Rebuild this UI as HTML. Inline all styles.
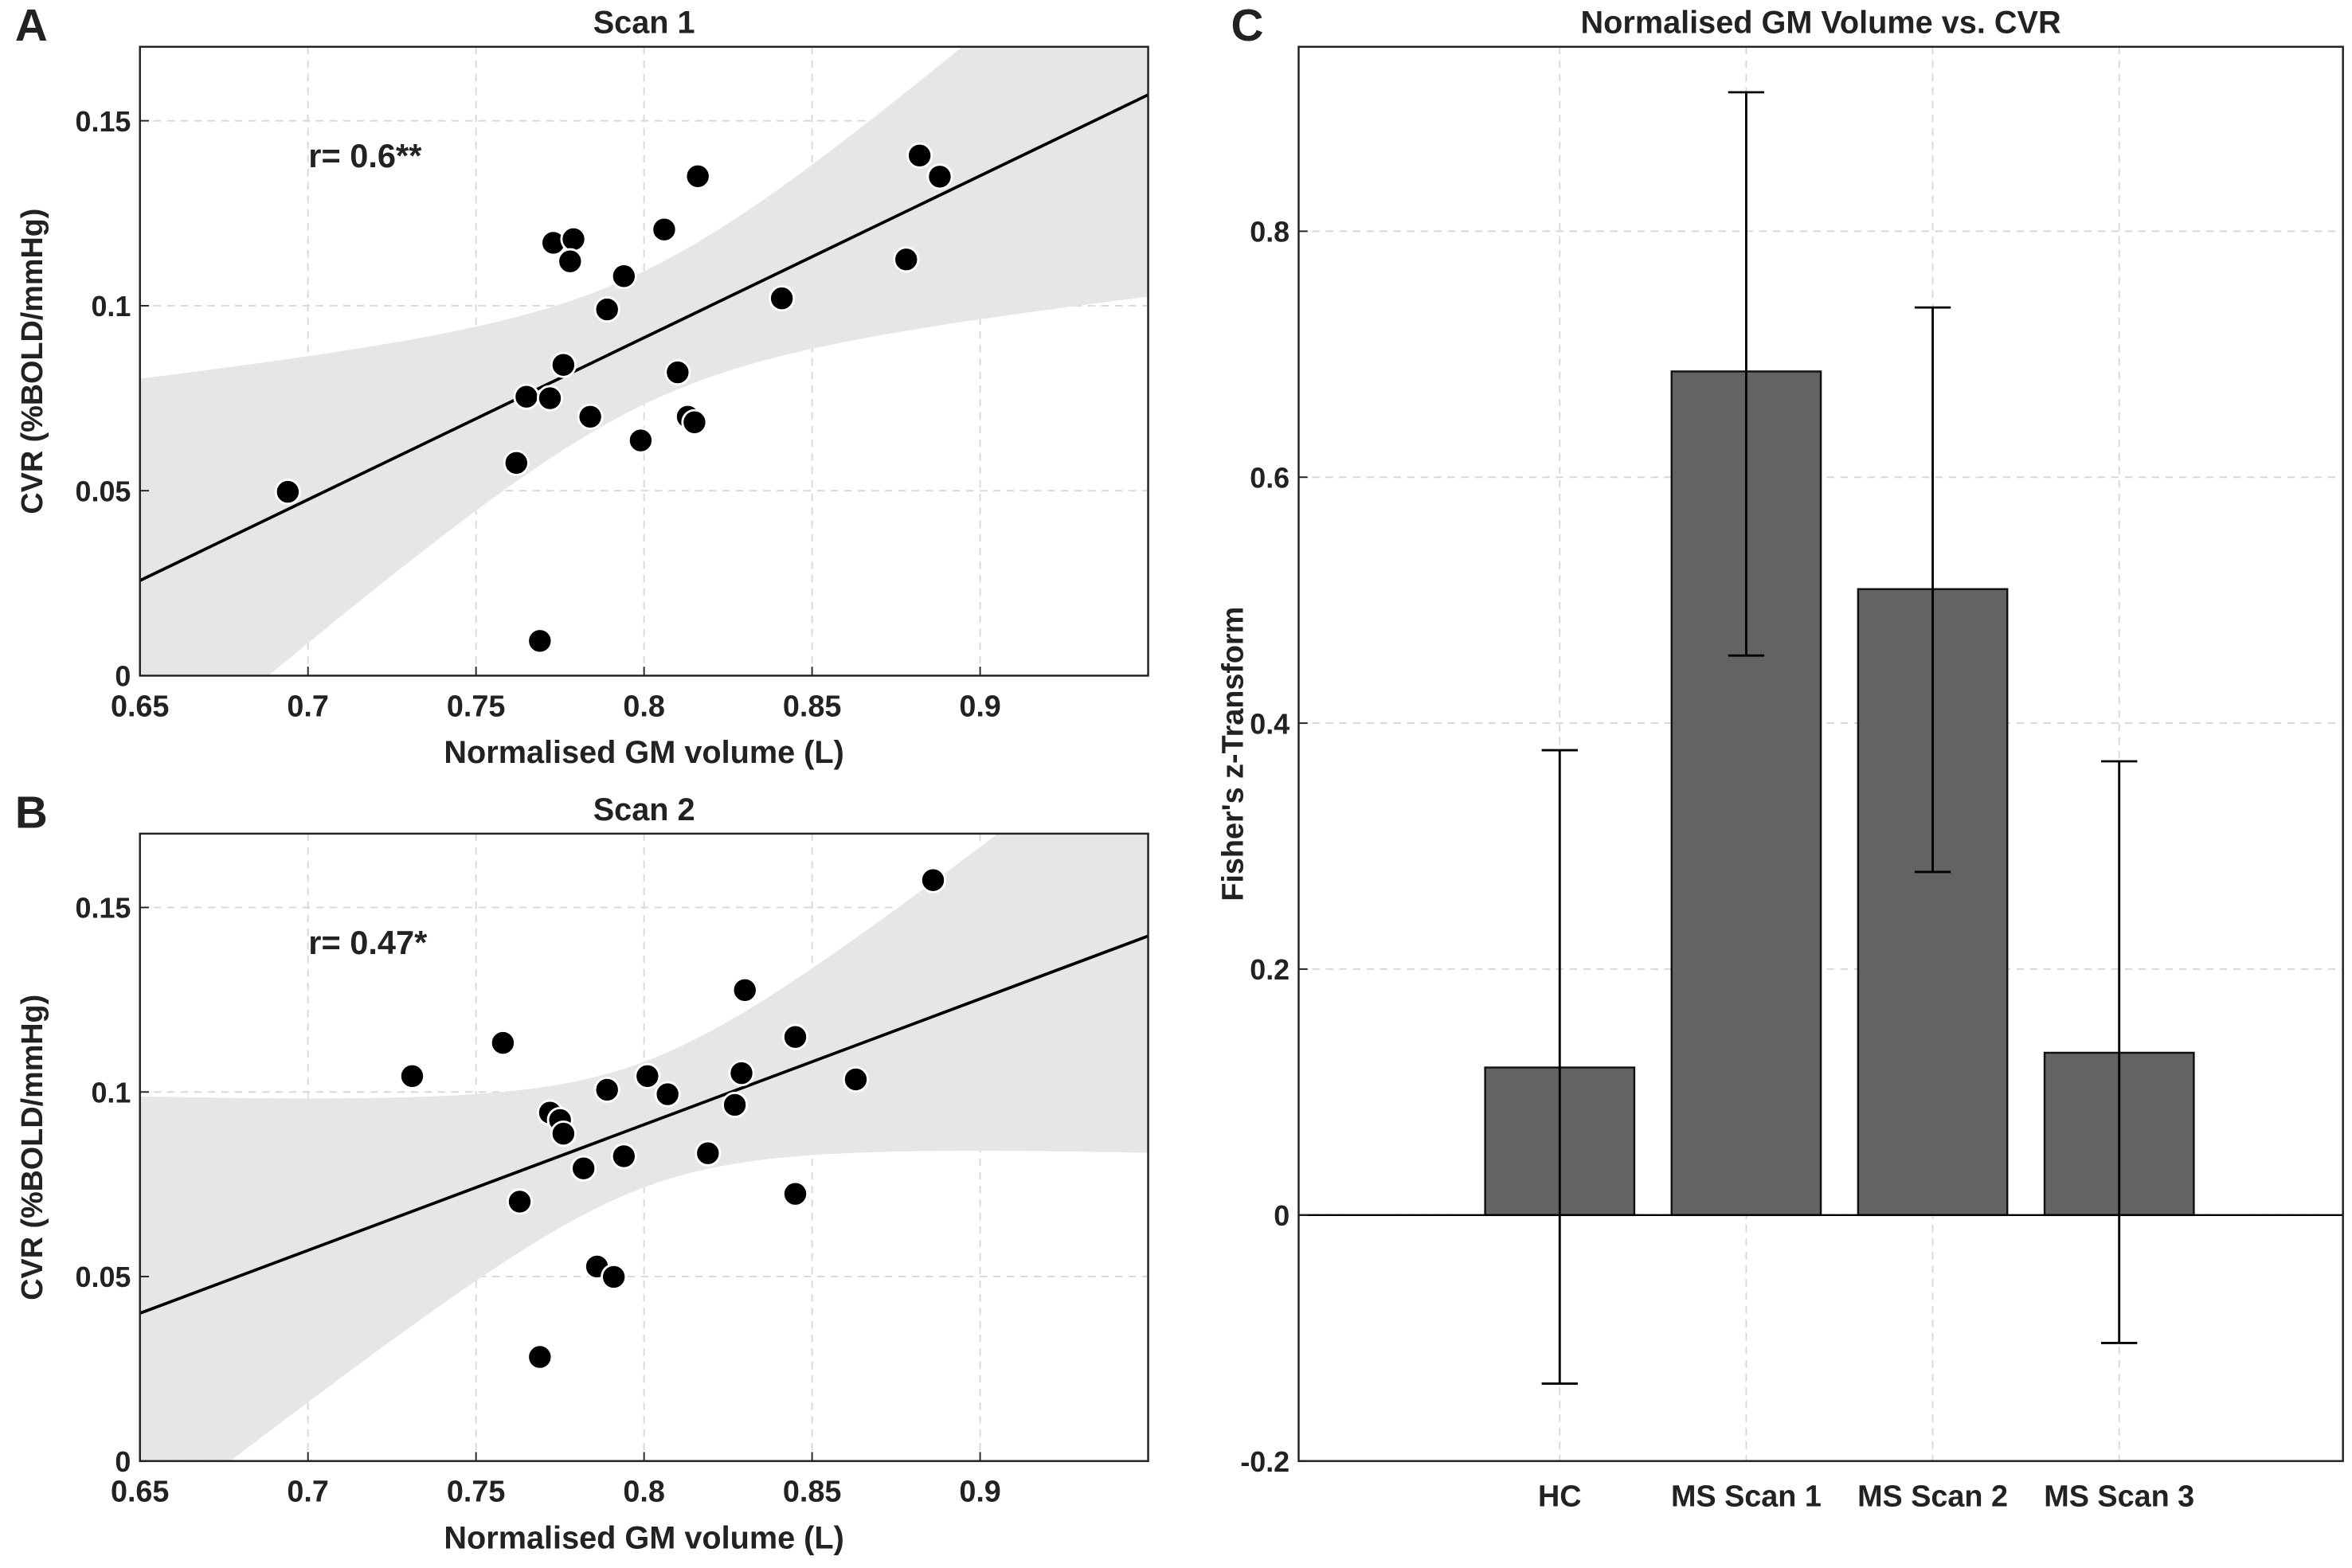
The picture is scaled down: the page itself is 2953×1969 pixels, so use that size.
<!DOCTYPE html>
<html><head><meta charset="utf-8"><style>
html,body{margin:0;padding:0;background:#fff}
svg{display:block}
text{font-family:"Liberation Sans",sans-serif;font-weight:bold;fill:#222}
</style></head><body>
<svg id="fig" width="2953" height="1969" viewBox="0 0 1563 1042" xmlns="http://www.w3.org/2000/svg"></svg>
<script>
// Panel A data
const scan1X=[0.694,0.762,0.765,0.772,0.773,0.779,0.778,0.776,0.769,0.784,0.789,0.794,0.799,0.806,0.810,0.813,0.815,0.816,0.841,0.878,0.882,0.888];
const scan1Y=[0.0497,0.0575,0.0754,0.075,0.117,0.118,0.112,0.084,0.0094,0.070,0.099,0.108,0.0636,0.1206,0.082,0.070,0.0685,0.135,0.102,0.1125,0.1406,0.1349];
const scan1Fit=[0.4377,-0.2588]; // slope, intercept
const scan1Band=[0.000324,0.118,0.8]; // CI params
// Panel B data
const scan2X=[0.731,0.758,0.763,0.769,0.772,0.775,0.776,0.782,0.786,0.789,0.791,0.794,0.801,0.807,0.819,0.827,0.829,0.830,0.845,0.845,0.863,0.886];
const scan2Y=[0.1043,0.1133,0.0703,0.0282,0.0944,0.0924,0.0887,0.0793,0.0527,0.1006,0.0499,0.0826,0.1043,0.0994,0.0834,0.0965,0.1051,0.1276,0.1149,0.0724,0.1034,0.1574];
const scan2Fit=[0.3407,-0.1814];
const scan2Band=[0.000289,0.1405,0.8];
const xTicks=[0.65,0.7,0.75,0.8,0.85,0.9];
const yTicksAB=[0,0.05,0.1,0.15];
// Panel C data
const groups=["HC","MS Scan 1","MS Scan 2","MS Scan 3"];
const zValues=[0.12,0.686,0.509,0.132];
const zLow=[-0.137,0.455,0.279,-0.104];
const zHigh=[0.378,0.913,0.738,0.369];
const yTicksC=[-0.2,0,0.2,0.4,0.6,0.8];

const NS="http://www.w3.org/2000/svg";
const svg=document.getElementById('fig');
function mk(tag,attrs,parent,txt){const e=document.createElementNS(NS,tag);for(const k in attrs)e.setAttribute(k,attrs[k]);if(txt!==undefined)e.textContent=txt;(parent||svg).appendChild(e);return e;}

function scatterPanel(cfg){
  const {L,R,T,B,X,Y,fit,band,title,letter,r,key}=cfg;
  const x0=0.65,x1=0.95,y0=0,y1=0.17;
  const sx=v=>L+(v-x0)/(x1-x0)*(R-L);
  const sy=v=>B-(v-y0)/(y1-y0)*(B-T);
  const g=mk('g',{});
  
  
  const cp=mk('clipPath',{id:'clip'+key},g);mk('rect',{x:L,y:T,width:R-L,height:B-T},cp);
  xTicks.forEach(t=>{const l=mk('line',{x1:sx(t),x2:sx(t),y1:T,y2:B,stroke:'#d8d8d8','stroke-dasharray':'5,4','stroke-width':1},g);});
  yTicksAB.forEach(t=>{const l=mk('line',{x1:L,x2:R,y1:sy(t),y2:sy(t),stroke:'#d8d8d8','stroke-dasharray':'5,4','stroke-width':1},g);});
  let up=[],lo=[];
  for(let i=0;i<=60;i++){const xv=x0+(x1-x0)*i/60;const f=fit[0]*xv+fit[1];const w=Math.sqrt(band[0]+band[1]*(xv-band[2])**2);up.push(sx(xv)+','+sy(f+w));lo.unshift(sx(xv)+','+sy(f-w));}
  const bp=mk('polygon',{points:up.concat(lo).join(' '),fill:'#e6e6e6','clip-path':'url(#clip'+key+')'},g);
  
  const fl=mk('line',{x1:sx(x0),y1:sy(fit[0]*x0+fit[1]),x2:sx(x1),y2:sy(fit[0]*x1+fit[1]),stroke:'#000','stroke-width':2,'clip-path':'url(#clip'+key+')'},g);
  
  X.forEach((xv,i)=>{const c=mk('circle',{cx:sx(xv),cy:sy(Y[i]),r:8,fill:'#000',stroke:'#fff','stroke-width':1.5},g);});
  const ax=mk('rect',{x:L,y:T,width:R-L,height:B-T,fill:'none',stroke:'#222','stroke-width':1.3},g);
  
  xTicks.forEach(t=>{mk('line',{x1:sx(t),x2:sx(t),y1:B,y2:B-6,stroke:'#222'},g);const tx=mk('text',{x:sx(t),y:B+27,'text-anchor':'middle','font-size':20},g,String(t));});
  yTicksAB.forEach(t=>{mk('line',{x1:L,x2:L+6,y1:sy(t),y2:sy(t),stroke:'#222'},g);const tx=mk('text',{x:L-6,y:sy(t)+7,'text-anchor':'end','font-size':19},g,String(t));});
  let e;
  e=mk('text',{x:(L+R)/2,y:B+58,'text-anchor':'middle','font-size':21},g,'Normalised GM volume (L)');
  e=mk('text',{x:0,y:0,'text-anchor':'middle','font-size':20,transform:`translate(28,${(T+B)/2}) rotate(-90)`},g,'CVR (%BOLD/mmHg)');
  e=mk('text',{x:(L+R)/2,y:T-9,'text-anchor':'middle','font-size':21},g,title);
  e=mk('text',{x:10,y:T-4,'font-size':30},g,letter);
  e=mk('text',{x:205,y:T+80,'font-size':22},g,r);
}
scatterPanel({L:93,R:763,T:31,B:449,X:scan1X,Y:scan1Y,fit:scan1Fit,band:scan1Band,title:'Scan 1',letter:'A',r:'r= 0.6**',key:'scan1'});
scatterPanel({L:93,R:763,T:554,B:971,X:scan2X,Y:scan2Y,fit:scan2Fit,band:scan2Band,title:'Scan 2',letter:'B',r:'r= 0.47*',key:'scan2'});

// Panel C
(function(){
  const L=863,R=1557,T=31,B=971;
  const c0=-0.4,c1=5.2,v0=-0.2,v1=0.95;
  const sx=v=>L+(v-c0)/(c1-c0)*(R-L);
  const sy=v=>B-(v-v0)/(v1-v0)*(B-T);
  const g=mk('g',{});
  groups.forEach((n,i)=>{const l=mk('line',{x1:sx(i+1),x2:sx(i+1),y1:T,y2:B,stroke:'#d8d8d8','stroke-dasharray':'5,4'},g);});
  yTicksC.forEach(t=>{const l=mk('line',{x1:L,x2:R,y1:sy(t),y2:sy(t),stroke:'#d8d8d8','stroke-dasharray':'5,4'},g);});
  const bw=0.8*(sx(2)-sx(1));
  zValues.forEach((v,i)=>{const x=sx(i+1);const b=mk('rect',{x:x-bw/2,y:Math.min(sy(v),sy(0)),width:bw,height:Math.abs(sy(v)-sy(0)),fill:'#636363',stroke:'#111','stroke-width':1.3},g);
    const eb=mk('g',{stroke:'#000','stroke-width':1.5},g);
    mk('line',{x1:x,x2:x,y1:sy(zLow[i]),y2:sy(zHigh[i])},eb);
    mk('line',{x1:x-12,x2:x+12,y1:sy(zLow[i]),y2:sy(zLow[i])},eb);
    mk('line',{x1:x-12,x2:x+12,y1:sy(zHigh[i]),y2:sy(zHigh[i])},eb);
    const t=mk('text',{x:x,y:B+30,'text-anchor':'middle','font-size':20},g,groups[i]);
  });
  mk('line',{x1:L,x2:R,y1:sy(0),y2:sy(0),stroke:'#000','stroke-width':1.3},g);
  const ax=mk('rect',{x:L,y:T,width:R-L,height:B-T,fill:'none',stroke:'#222','stroke-width':1.3},g);
  yTicksC.forEach(t=>{mk('line',{x1:L,x2:L+6,y1:sy(t),y2:sy(t),stroke:'#222'},g);const tx=mk('text',{x:L-6,y:sy(t)+7,'text-anchor':'end','font-size':19},g,String(t));});
  let e;
  e=mk('text',{x:0,y:0,'text-anchor':'middle','font-size':20,transform:`translate(826,${(T+B)/2}) rotate(-90)`},g,"Fisher's z-Transform");
  e=mk('text',{x:(L+R)/2,y:T-9,'text-anchor':'middle','font-size':21},g,'Normalised GM Volume vs. CVR');
  e=mk('text',{x:818,y:T-4,'font-size':30},g,'C');
})();
</script>
</body></html>
